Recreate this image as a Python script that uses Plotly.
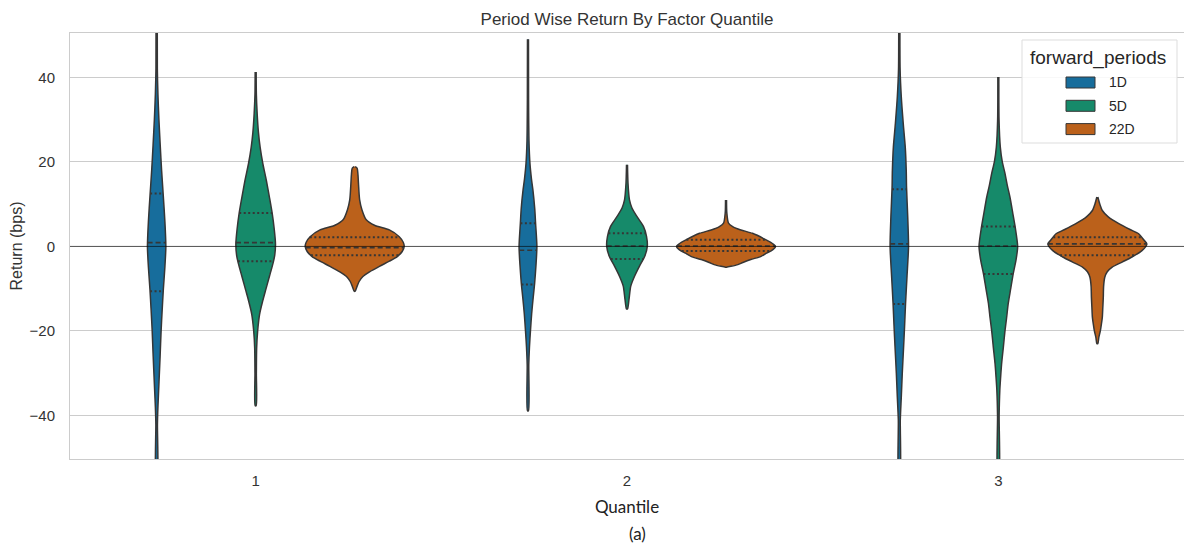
import numpy as np
import plotly.graph_objects as go

# ---- data -------------------------------------------------------------
QUANTILES = ["1", "2", "3"]
PERIODS = ["1D", "5D", "22D"]

# Violin outlines: return (bps) from top to bottom, with kernel density
# relative to the widest violin in the chart.
Q1_1D_RET = [55, 42, 36, 30, 24, 18, 12, 6, 0, -5, -10, -15, -20, -26, -32, -38, -42, -55]
Q1_1D_DENS = [0.012, 0.014, 0.026, 0.046, 0.072, 0.10, 0.134, 0.166, 0.186, 0.166, 0.136,
              0.112, 0.09, 0.07, 0.048, 0.026, 0.016, 0.012]
Q1_5D_RET = [41.3, 36, 31.5, 27, 23.5, 19.5, 15.6, 11.5, 7.8, 4, 0.6, -2, -4, -7, -10.4,
             -13, -16, -20, -24, -30, -37.7]
Q1_5D_DENS = [0.01, 0.014, 0.03, 0.056, 0.09, 0.146, 0.216, 0.28, 0.334, 0.376, 0.40,
              0.386, 0.35, 0.28, 0.20, 0.14, 0.08, 0.04, 0.02, 0.014, 0.01]
Q1_22D_RET = [18.9, 18.5, 17, 15, 11, 8.7, 6.3, 5, 3.9, 2.3, 1, 0, -1.2, -2.4, -3.5, -4.7,
              -6, -7.1, -8.3, -9.4, -10.6]
Q1_22D_DENS = [0.01, 0.05, 0.066, 0.076, 0.10, 0.146, 0.234, 0.40, 0.70, 0.90, 0.98, 1.0,
               0.96, 0.86, 0.70, 0.50, 0.30, 0.166, 0.09, 0.05, 0.01]

Q2_1D_RET = [49, 35, 25, 19.6, 16, 13.3, 9, 5.4, 0, -4, -8.8, -12, -16, -20, -23.8, -28, -38.9]
Q2_1D_DENS = [0.01, 0.012, 0.02, 0.04, 0.07, 0.10, 0.136, 0.154, 0.18, 0.164, 0.134, 0.106,
              0.074, 0.05, 0.03, 0.016, 0.01]
Q2_5D_RET = [19.3, 15, 11, 9.1, 7.1, 4.7, 2.4, 0, -2.4, -4.7, -7.1, -9.4, -12.6, -14.8]
Q2_5D_DENS = [0.01, 0.02, 0.05, 0.10, 0.20, 0.334, 0.394, 0.41, 0.356, 0.25, 0.15, 0.076,
              0.04, 0.01]
Q2_22D_RET = [11, 8, 5.5, 4.7, 3.9, 3.1, 1.6, 0.5, 0, -0.8, -1.6, -2.4, -3.1, -3.8, -4.3,
              -4.7, -4.9]
Q2_22D_DENS = [0.01, 0.016, 0.05, 0.134, 0.30, 0.534, 0.80, 0.96, 1.0, 0.94, 0.82, 0.70,
               0.50, 0.34, 0.24, 0.10, 0.01]

Q3_1D_RET = [55, 42, 35.4, 29, 23.5, 18, 14, 7, 0, -7, -13.5, -19, -23.9, -30, -35.7, -41, -55]
Q3_1D_DENS = [0.012, 0.016, 0.04, 0.08, 0.12, 0.14, 0.146, 0.17, 0.186, 0.156, 0.126, 0.106,
              0.086, 0.06, 0.04, 0.02, 0.012]
Q3_5D_RET = [40.1, 30, 23.5, 20, 17.3, 14.5, 11.7, 8, 4.6, 0, -3, -6.5, -10, -13.5, -17, -20,
             -24, -27.8, -31, -34, -40, -55]
Q3_5D_DENS = [0.01, 0.014, 0.04, 0.08, 0.134, 0.18, 0.234, 0.29, 0.34, 0.39, 0.36, 0.30,
              0.25, 0.20, 0.166, 0.134, 0.10, 0.066, 0.046, 0.03, 0.016, 0.012]
Q3_22D_RET = [11.7, 10, 8.5, 7, 5.4, 4, 3, 1.5, 0.6, -1, -2.5, -3.7, -4.9, -6, -7.3, -9.5,
              -12, -14.5, -16.8, -18.5, -20, -21.5, -23]
Q3_22D_DENS = [0.01, 0.05, 0.10, 0.22, 0.434, 0.66, 0.834, 0.94, 1.0, 0.90, 0.70, 0.50,
               0.30, 0.20, 0.15, 0.126, 0.12, 0.11, 0.10, 0.08, 0.06, 0.03, 0.01]

# Lower quartile, median, upper quartile per factor quantile
QUARTILES_1D = [(-10.6, 0.9, 12.5), (-9.0, -0.9, 5.5), (-13.6, 0.6, 13.5)]
QUARTILES_5D = [(-3.5, 0.9, 7.9), (-3.0, 0.1, 3.1), (-6.5, 0.1, 4.7)]
QUARTILES_22D = [(-2.1, -0.3, 2.2), (-1.1, 0.1, 1.6), (-2.1, 0.6, 2.2)]

Y_TICKS = [-40, -20, 0, 20, 40]

# ---- styling ----------------------------------------------------------
COLORS = {"1D": "#176d9c", "5D": "#168a6a", "22D": "#bb611b"}
EDGE = "#363636"
GRID = "#cccccc"
TEXT = "#333333"
FONT = "Liberation Sans"

PROFILES = {
    ("1", "1D"): (Q1_1D_RET, Q1_1D_DENS),
    ("1", "5D"): (Q1_5D_RET, Q1_5D_DENS),
    ("1", "22D"): (Q1_22D_RET, Q1_22D_DENS),
    ("2", "1D"): (Q2_1D_RET, Q2_1D_DENS),
    ("2", "5D"): (Q2_5D_RET, Q2_5D_DENS),
    ("2", "22D"): (Q2_22D_RET, Q2_22D_DENS),
    ("3", "1D"): (Q3_1D_RET, Q3_1D_DENS),
    ("3", "5D"): (Q3_5D_RET, Q3_5D_DENS),
    ("3", "22D"): (Q3_22D_RET, Q3_22D_DENS),
}
QUARTILES = {"1D": QUARTILES_1D, "5D": QUARTILES_5D, "22D": QUARTILES_22D}

GROUP_WIDTH = 0.8
SLOT = GROUP_WIDTH / len(PERIODS)
HALF = SLOT / 2

fig = go.Figure()

for qi, q in enumerate(QUANTILES):
    for pi, p in enumerate(PERIODS):
        ret = np.asarray(PROFILES[(q, p)][0], dtype=float)
        dens = np.asarray(PROFILES[(q, p)][1], dtype=float)
        center = qi + (pi - (len(PERIODS) - 1) / 2) * SLOT
        xs = np.concatenate([center + dens * HALF, (center - dens * HALF)[::-1]])
        ys = np.concatenate([ret, ret[::-1]])
        fig.add_trace(go.Scatter(
            x=xs, y=ys, mode="lines", fill="toself", fillcolor=COLORS[p],
            line=dict(color=EDGE, width=1.5, shape="spline", smoothing=0.7),
            name=p, legendgroup=p, showlegend=False, hoverinfo="skip",
        ))
        # quartile lines inside the violin
        for val, dash, w in zip(QUARTILES[p][qi], ["2px,2.5px", "5px,3px", "2px,2.5px"],
                                [2.0, 1.7, 2.0]):
            half_w = np.interp(val, ret[::-1], dens[::-1]) * HALF
            fig.add_trace(go.Scatter(
                x=[center - half_w, center + half_w], y=[val, val], mode="lines",
                line=dict(color=EDGE, width=w, dash=dash),
                showlegend=False, hoverinfo="skip",
            ))

# ---- layout helpers (pixel placement within the plotting area) --------
W, H = 1184, 551
ML, MR, MT, MB = 70, 0, 33, 92
PW, PH = W - ML - MR, H - MT - MB


def px_x(p):
    return (p - ML) / PW


def px_y(p):
    return (H - MB - p) / PH


shapes = [
    dict(type="line", xref="paper", yref="y", x0=0, x1=1, y0=0, y1=0,
         line=dict(color="rgba(0,0,0,0.6)", width=1), layer="above"),
    # legend frame
    dict(type="rect", xref="paper", yref="paper",
         x0=px_x(1022), x1=px_x(1177), y0=px_y(143), y1=px_y(40),
         fillcolor="rgba(255,255,255,0.85)", line=dict(color="#dddddd", width=1),
         layer="above"),
]
annotations = [
    dict(text="forward_periods", xref="paper", yref="paper", x=px_x(1098), y=px_y(58),
         xanchor="center", yanchor="middle", showarrow=False,
         font=dict(family=FONT, size=19, color="#262626")),
    dict(text="(a)", xref="paper", yref="paper", x=px_x(637), y=px_y(533),
         xanchor="center", yanchor="middle", showarrow=False,
         font=dict(family="Lato", size=17, color="#222222")),
]
for i, p in enumerate(PERIODS):
    yc = 82.5 + i * 23.3
    shapes.append(dict(type="rect", xref="paper", yref="paper",
                       x0=px_x(1066), x1=px_x(1095), y0=px_y(yc + 5.5), y1=px_y(yc - 5.5),
                       fillcolor=COLORS[p], line=dict(color=EDGE, width=1), layer="above"))
    annotations.append(dict(text=p, xref="paper", yref="paper", x=px_x(1107), y=px_y(yc),
                            xanchor="left", yanchor="middle", showarrow=False,
                            font=dict(family=FONT, size=14, color="#262626")))

fig.update_layout(
    width=W, height=H,
    margin=dict(l=ML, r=MR, t=MT, b=MB, autoexpand=False),
    plot_bgcolor="white", paper_bgcolor="white",
    font=dict(family=FONT, color=TEXT),
    showlegend=False,
    title=dict(text="Period Wise Return By Factor Quantile", x=0.5, xref="paper",
               xanchor="center", y=1 - 19 / H, yref="container", yanchor="middle",
               font=dict(family=FONT, size=17, color=TEXT)),
    xaxis=dict(range=[-0.5, 2.5], tickvals=list(range(len(QUANTILES))), ticktext=QUANTILES,
               showgrid=False, zeroline=False, showline=True, mirror=True,
               linecolor=GRID, linewidth=1, ticks="", ticklabelstandoff=8,
               tickfont=dict(family=FONT, size=15, color=TEXT),
               title=dict(text="Quantile", standoff=13,
                          font=dict(family="Lato", size=17, color="#222222"))),
    yaxis=dict(range=[-50.3, 50.5], tickvals=Y_TICKS, showgrid=True, gridcolor=GRID,
               gridwidth=1, zeroline=False, showline=True, mirror=True, linecolor=GRID,
               linewidth=1, ticks="", ticklabelstandoff=11,
               tickfont=dict(family=FONT, size=15, color=TEXT),
               title=dict(text="Return (bps)", standoff=2,
                          font=dict(family=FONT, size=16, color=TEXT))),
    shapes=shapes,
    annotations=annotations,
)

fig.write_html("out.html")
